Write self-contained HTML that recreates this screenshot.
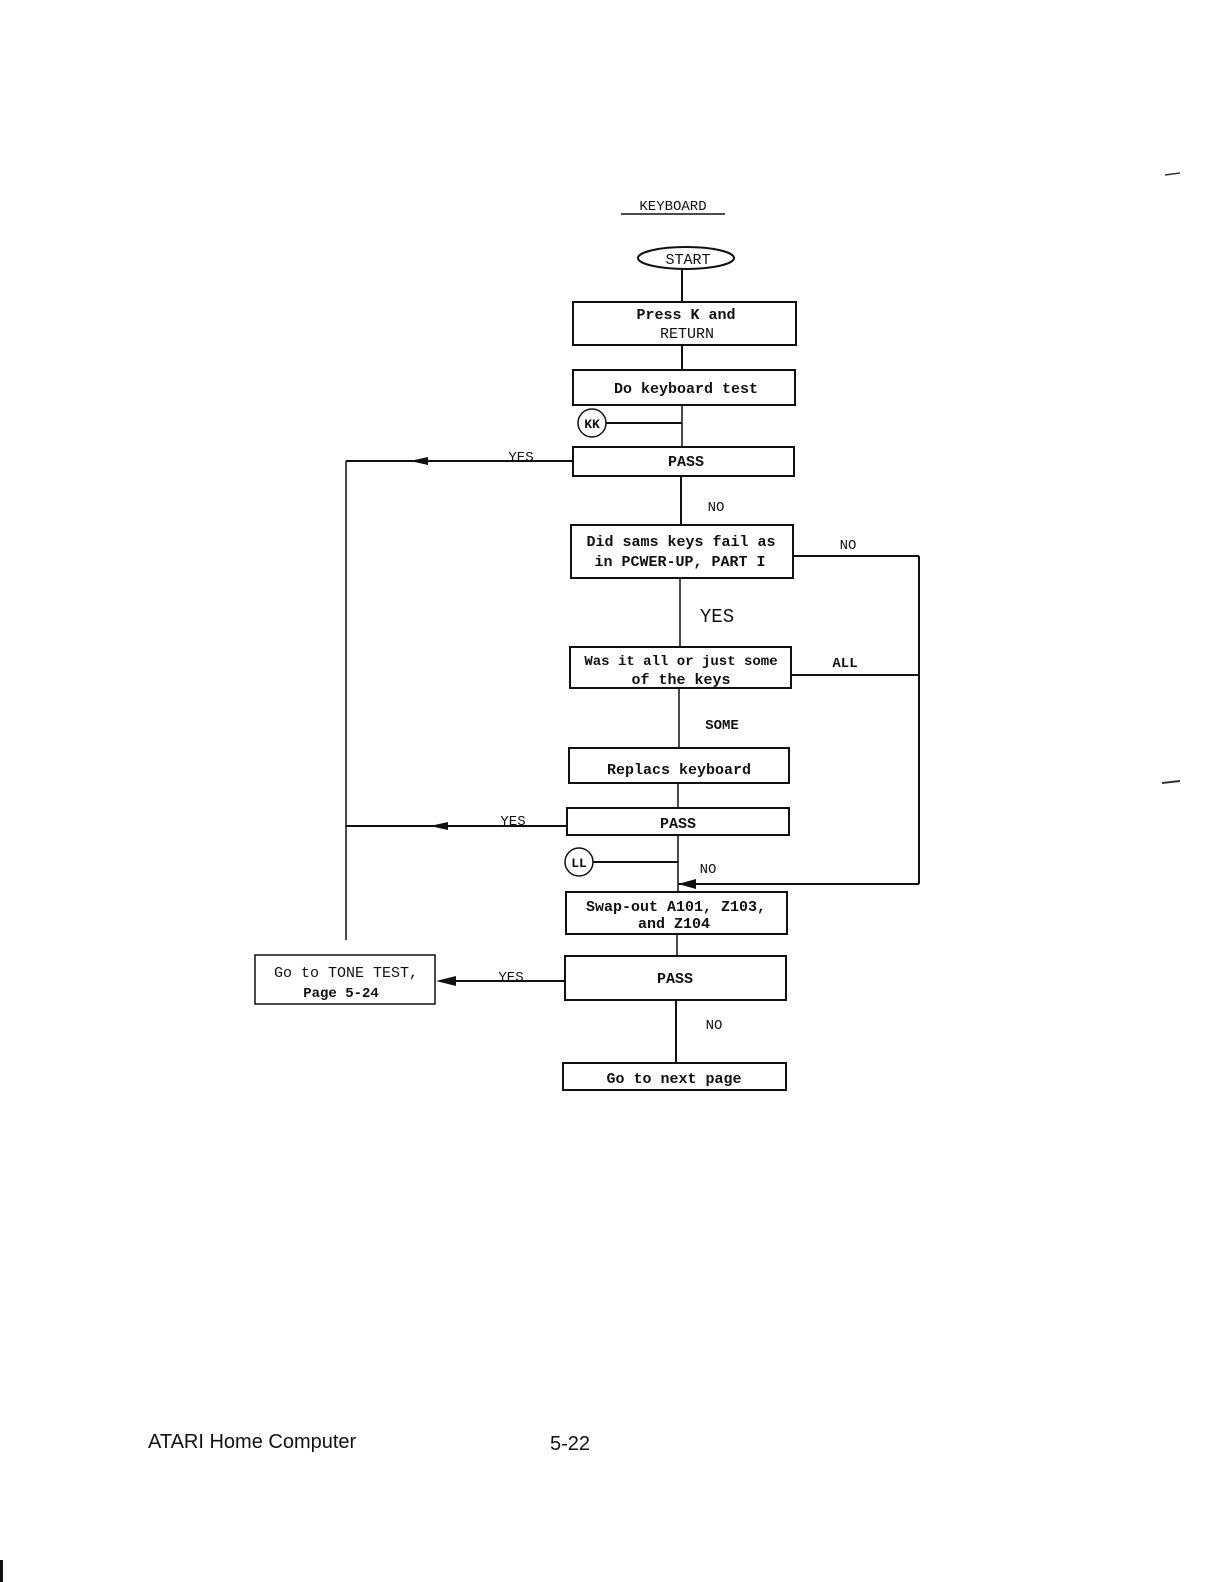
<!DOCTYPE html>
<html><head><meta charset="utf-8"><style>
html,body{margin:0;padding:0;background:#fff;}
svg{display:block;}
text{font-family:"Liberation Mono",monospace;font-size:15px;fill:#111;font-weight:bold;}
.s{font-family:"Liberation Sans",sans-serif;font-weight:normal;}
</style></head><body>
<svg width="1224" height="1582" viewBox="0 0 1224 1582" xmlns="http://www.w3.org/2000/svg">
<g stroke="#111" stroke-width="2" fill="none">
<line x1="621" y1="214" x2="725" y2="214" stroke-width="1.5"/>
<ellipse cx="686" cy="258" rx="48" ry="11"/>
<line x1="682" y1="269" x2="682" y2="302"/>
<rect x="573" y="302" width="223" height="43"/>
<line x1="682" y1="345" x2="682" y2="370"/>
<rect x="573" y="370" width="222" height="35"/>
<circle cx="592" cy="423" r="14" stroke-width="1.5"/>
<line x1="606" y1="423" x2="682" y2="423"/>
<line x1="682" y1="405" x2="682" y2="447" stroke-width="1.5"/>
<rect x="573" y="447" width="221" height="29"/>
<line x1="573" y1="461" x2="346" y2="461"/>
<line x1="346" y1="461" x2="346" y2="940" stroke-width="1.5"/>
<line x1="681" y1="476" x2="681" y2="525"/>
<rect x="571" y="525" width="222" height="53"/>
<line x1="793" y1="556" x2="919" y2="556"/>
<line x1="919" y1="556" x2="919" y2="884"/>
<line x1="680" y1="578" x2="680" y2="647" stroke-width="1.5"/>
<rect x="570" y="647" width="221" height="41"/>
<line x1="791" y1="675" x2="919" y2="675"/>
<line x1="679" y1="688" x2="679" y2="748" stroke-width="1.5"/>
<rect x="569" y="748" width="220" height="35"/>
<line x1="678" y1="783" x2="678" y2="808" stroke-width="1.5"/>
<rect x="567" y="808" width="222" height="27"/>
<line x1="567" y1="826" x2="346" y2="826"/>
<circle cx="579" cy="862" r="14" stroke-width="1.5"/>
<line x1="593" y1="862" x2="678" y2="862"/>
<line x1="678" y1="835" x2="678" y2="892" stroke-width="1.5"/>
<line x1="919" y1="884" x2="678" y2="884"/>
<rect x="566" y="892" width="221" height="42"/>
<line x1="677" y1="934" x2="677" y2="956" stroke-width="1.5"/>
<rect x="565" y="956" width="221" height="44"/>
<line x1="565" y1="981" x2="450" y2="981"/>
<rect x="255" y="955" width="180" height="49" stroke-width="1.5"/>
<line x1="676" y1="1000" x2="676" y2="1063"/>
<rect x="563" y="1063" width="223" height="27"/>
</g>
<g fill="#111">
<polygon points="410,461 428,457 428,465"/>
<polygon points="430,826 448,822 448,830"/>
<polygon points="436,981 456,976 456,986"/>
<polygon points="678,884 696,879 696,889"/>
</g>
<g text-anchor="middle">
<text x="673" y="210" style="font-weight:normal;font-size:14px">KEYBOARD</text>
<text x="688" y="264" style="font-weight:normal">START</text>
<text x="686" y="319">Press K and</text>
<text x="687" y="338" style="font-weight:normal">RETURN</text>
<text x="686" y="393">Do keyboard test</text>
<text x="592" y="428" style="font-size:13px">KK</text>
<text x="686" y="466">PASS</text>
<text x="521" y="461" style="font-weight:normal;font-size:14px">YES</text>
<text x="716" y="511" style="font-weight:normal;font-size:14px">NO</text>
<text x="681" y="546">Did sams keys fail as</text>
<text x="680" y="566">in PCWER-UP, PART I</text>
<text x="848" y="549" style="font-weight:normal;font-size:14px">NO</text>
<text x="717" y="622" style="font-weight:normal;font-size:19px">YES</text>
<text x="681" y="665" style="font-size:14px">Was it all or just some</text>
<text x="681" y="684">of the keys</text>
<text x="845" y="667" style="font-size:14px">ALL</text>
<text x="722" y="729" style="font-size:14px">SOME</text>
<text x="679" y="774">Replacs keyboard</text>
<text x="678" y="828">PASS</text>
<text x="513" y="825" style="font-weight:normal;font-size:14px">YES</text>
<text x="579" y="867" style="font-size:13px">LL</text>
<text x="708" y="873" style="font-weight:normal;font-size:14px">NO</text>
<text x="676" y="911">Swap-out A101, Z103,</text>
<text x="674" y="928">and Z104</text>
<text x="675" y="983">PASS</text>
<text x="511" y="981" style="font-weight:normal;font-size:14px">YES</text>
<text x="346" y="977" style="font-weight:normal">Go to TONE TEST,</text>
<text x="341" y="997" style="font-size:14px">Page 5-24</text>
<text x="714" y="1029" style="font-weight:normal;font-size:14px">NO</text>
<text x="674" y="1083">Go to next page</text>
</g>
<text x="148" y="1448" class="s" style="font-size:20px">ATARI Home Computer</text>
<text x="550" y="1450" class="s" style="font-size:20px">5-22</text>
<line x1="1165" y1="175" x2="1180" y2="173" stroke="#333" stroke-width="1.5"/>
<line x1="1162" y1="783" x2="1180" y2="781" stroke="#333" stroke-width="2"/>
<rect x="0" y="1560" width="3" height="22" fill="#111"/>
</svg>
</body></html>
